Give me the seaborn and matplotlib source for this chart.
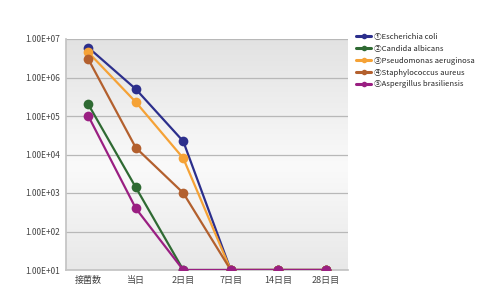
import numpy as np
import pandas as pd
import matplotlib
matplotlib.use("Agg")
import matplotlib.pyplot as plt
import seaborn as sns

categories = ["接菌数", "当日", "2日目", "7日目", "14日目", "28日目"]
series_names = ["①Escherichia coli", "②Candida albicans", "③Pseudomonas aeruginosa",
                "④Staphylococcus aureus", "⑤Aspergillus brasiliensis"]
ecoli = [6.0e6, 5.0e5, 2.2e4, 10, 10, 10]
candida = [2.0e5, 1.4e3, 10, 10, 10, 10]
pseudo = [4.5e6, 2.3e5, 8.0e3, 10, 10, 10]
staph = [3.0e6, 1.5e4, 1.0e3, 10, 10, 10]
asper = [1.0e5, 4.0e2, 10, 10, 10, 10]
ytick_vals = [1e1, 1e2, 1e3, 1e4, 1e5, 1e6, 1e7]
ytick_labels = ["1.00E+01", "1.00E+02", "1.00E+03", "1.00E+04", "1.00E+05", "1.00E+06", "1.00E+07"]
colors = ["#2c2f8c", "#2f6a33", "#f5a236", "#b3602e", "#9a1f82"]

rows = []
for name, vals in zip(series_names, [ecoli, candida, pseudo, staph, asper]):
    for i, v in enumerate(vals):
        rows.append({"day": i, "count": v, "series": name})
df = pd.DataFrame(rows)

sns.set_theme(style="white")
plt.rcParams['font.family'] = ['Noto Sans CJK JP', 'DejaVu Sans']

fig = plt.figure(figsize=(4.81, 2.92), dpi=100)
ax = fig.add_axes([66/481, 22/292, (348-66)/481, (270-39)/292])

# gradient background (gray top, lighter middle, gray bottom)
grad = np.linspace(0, 1, 256).reshape(-1, 1)
cmap = matplotlib.colors.LinearSegmentedColormap.from_list(
    "g", [(0, "#e8e8e8"), (0.45, "#fafafa"), (1, "#e2e2e2")])
ax.imshow(grad, extent=[0, 1, 0, 1], transform=ax.transAxes, aspect='auto',
          cmap=cmap, origin='lower', zorder=0)

sns.lineplot(data=df, x="day", y="count", hue="series", palette=colors,
             hue_order=series_names, marker="o", markersize=7, markeredgewidth=0,
             linewidth=1.6, ax=ax, legend=True, zorder=3)

ax.set_yscale("log")
ax.set_ylim(1e1, 1e7)
ax.set_xlim(-0.47, 5.47)
ax.set_yticks(ytick_vals)
ax.set_yticklabels(ytick_labels, fontsize=6, color="#444444")
ax.minorticks_off()
ax.set_xticks(range(len(categories)))
ax.set_xticklabels(categories, fontsize=6.5, color="#444444")
ax.set_xlabel("")
ax.set_ylabel("")
ax.yaxis.grid(True, color="#b8b8b8", linewidth=0.9)
for sp in ["top", "right"]:
    ax.spines[sp].set_visible(False)
ax.spines["left"].set_color("#c4c4c4")
ax.spines["bottom"].set_color("#c4c4c4")
ax.tick_params(axis="both", length=0, pad=4)
for ln in ax.get_ygridlines():
    ln.set_zorder(1)

handles, labels = ax.get_legend_handles_labels()
for h in handles:
    h.set_markersize(4)
    h.set_linewidth(2.2)
ax.legend(handles, labels, loc="upper left", bbox_to_anchor=(353/481, 1 - 30/292),
          bbox_transform=fig.transFigure, frameon=False, fontsize=5.5,
          handlelength=2.0, labelspacing=0.5, handletextpad=0.3, borderaxespad=0)

fig.savefig("out.png", dpi=100)
